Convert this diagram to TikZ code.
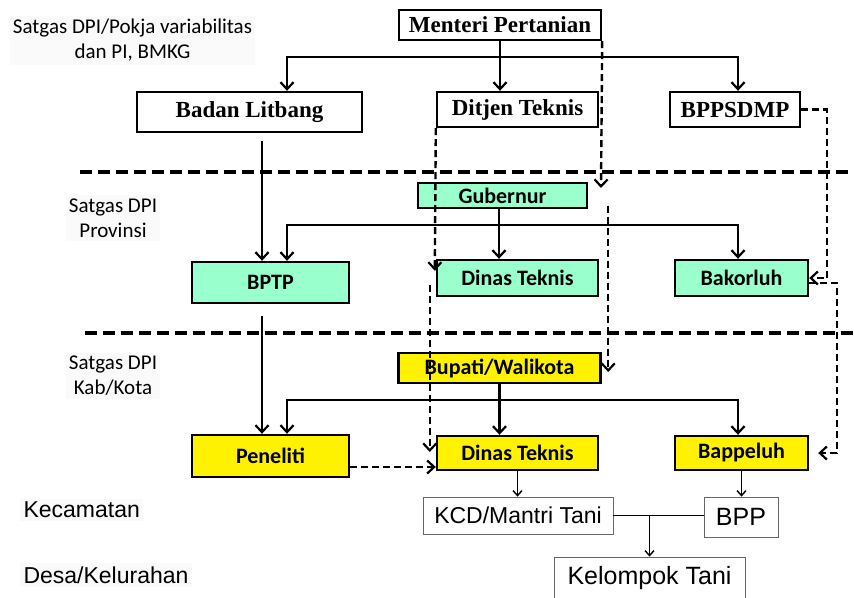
\documentclass[tikz,border=0pt]{standalone}
\usepackage{fontspec}
\setmainfont{Liberation Serif}
\newfontfamily\calibri{Carlito}
\newfontfamily\arial{Liberation Sans}
\usetikzlibrary{arrows.meta}
\definecolor{hijaumuda}{RGB}{153,255,204}

\begin{document}
\begin{tikzpicture}[x=1pt, y=-1pt, >={Straight Barb[length=7pt,width=13pt,line width=2.2pt]},
  kotak/.style = {draw, line width=2.4pt, inner sep=0pt},
  pusat/.style = {kotak, fill=white, font=\fontsize{23}{26}\selectfont\bfseries},
  prov/.style = {kotak, fill=hijaumuda, font=\calibri\fontsize{22}{26}\selectfont\bfseries},
  kab/.style = {kotak, fill=yellow, font=\calibri\fontsize{22}{26}\selectfont\bfseries},
  desa/.style = {draw=black!60, line width=0.8pt, fill=white, inner sep=0pt, font=\arial\fontsize{23}{26}\selectfont},
  ket/.style = {fill=black!2, align=center, font=\calibri\fontsize{21}{25}\selectfont},
  garis/.style = {line width=2.9pt, ->},
  cabang/.style = {line width=2.9pt, <->},
  putus/.style = {line width=2.4pt, dash pattern=on 7pt off 4pt, ->},
  tipis/.style = {line width=1.4pt, -{Straight Barb[length=5pt,width=9pt]}},
  batas/.style = {line width=3.2pt, dash pattern=on 12pt off 6pt}]
\useasboundingbox (0,0) rectangle (854,597);

% keterangan tingkat
\node[ket] (k1) at (132.5,40.5) {Satgas DPI/Pokja variabilitas\\dan PI, BMKG};
\node[ket] (k2) at (113,218) {Satgas DPI\\Provinsi};
\node[ket] (k3) at (113,376) {Satgas DPI\\Kab/Kota};
\node[ket, anchor=west, font=\arial\fontsize{23}{26}\selectfont] (k4) at (20,510) {Kecamatan};
\node[ket, anchor=west, font=\arial\fontsize{23}{26}\selectfont] (k5) at (20,575) {Desa/Kelurahan};

% batas tingkat
\draw[batas] (80,172) -- (854,172);
\draw[batas] (85,333) -- (854,333);

% pusat
\node[pusat, minimum width=202pt, minimum height=30pt] (menteri) at (500,25) {Menteri Pertanian};
\node[pusat, minimum width=225pt, minimum height=40pt] (litbang) at (249.5,112) {Badan Litbang};
\node[pusat, minimum width=161pt, minimum height=35pt] (ditjen) at (517.5,109.5) {Ditjen Teknis};
\node[pusat, minimum width=130pt, minimum height=35pt] (bppsdmp) at (735,109.5) {BPPSDMP};

% provinsi
\node[prov, minimum width=169pt, minimum height=25pt] (gubernur) at (502.5,195.5) {Gubernur};
\node[prov, minimum width=157pt, minimum height=41pt] (bptp) at (270.5,282.5) {BPTP};
\node[prov, minimum width=161pt, minimum height=36pt] (dinasprov) at (517.5,278) {Dinas Teknis};
\node[prov, minimum width=133pt, minimum height=36pt] (bakorluh) at (741.5,278) {Bakorluh};

% kabupaten/kota
\node[kab, minimum width=202pt, minimum height=30pt] (bupati) at (499.5,368) {Bupati/Walikota};
\node[kab, minimum width=157pt, minimum height=42pt] (peneliti) at (270.5,456) {Peneliti};
\node[kab, minimum width=161pt, minimum height=34pt] (dinaskab) at (517.5,453) {Dinas Teknis};
\node[kab, minimum width=133pt, minimum height=34pt] (bappeluh) at (741.5,453) {Bappeluh};

% kecamatan, desa
\node[desa, minimum width=190pt, minimum height=37pt] (kcd) at (518,515.5) {KCD/Mantri Tani};
\node[desa, minimum width=74pt, minimum height=40pt, font=\arial\fontsize{25}{28}\selectfont] (bpp) at (741,517) {BPP};
\node[desa, minimum width=191pt, minimum height=43pt, font=\arial\fontsize{25}{28}\selectfont] (kelompok) at (649.5,578.5) {Kelompok Tani};

% garis komando
\coordinate (b1w) at (287,57);
\coordinate (b1e) at (738,57);
\coordinate (b2w) at (287,225);
\coordinate (b2e) at (738,225);
\coordinate (b3w) at (287,400);
\coordinate (b3e) at (738,400);
\draw[garis] (menteri.south) -- (menteri.south |- ditjen.north);
\draw[cabang] (b1w |- litbang.north) -- (b1w) -- (b1e) -- (b1e |- bppsdmp.north);
\draw[garis] ([shift={(12.5,8)}]litbang.south) -- ([xshift=-8.5pt]bptp.north);
\draw[garis] ([xshift=-3.5pt]gubernur.south) -- ([xshift=-3.5pt]gubernur.south |- dinasprov.north);
\draw[cabang] (b2w |- bptp.north) -- (b2w) -- (b2e) -- (b2e |- bakorluh.north);
\draw[garis] ([shift={(-8.5,12)}]bptp.south) -- ([xshift=-8.5pt]peneliti.north);
\draw[garis] (bupati.south) -- (bupati.south |- dinaskab.north);
\draw[cabang] (b3w |- peneliti.north) -- (b3w) -- (b3e) -- (b3e |- bappeluh.north);
\draw[tipis] (dinaskab.south) -- (dinaskab.south |- kcd.north);
\draw[tipis] (bappeluh.south) -- (bappeluh.south |- bpp.north);
\draw[line width=1.4pt] (kcd.east) -- (bpp.west |- kcd.east);
\draw[tipis] (kelompok.north |- kcd.east) -- (kelompok.north);

% garis koordinasi
\coordinate (gubne) at (601,188);
\draw[putus] (menteri.south east) -- (gubne);
\draw[putus] (ditjen.south west) -- ([shift={(-1,12)}]dinasprov.north west);
\draw[putus] ([shift={(-6,7)}]dinasprov.west) -- ([shift={(-6,-1)}]dinaskab.west);
\draw[putus] ([shift={(20,10)}]gubernur.east) -- ([shift={(6.5,4)}]bupati.east);
\draw[putus] (bppsdmp.east) -- ++(26,0) |- (bakorluh.east);
\draw[putus] ([yshift=-5pt]bakorluh.east) -- ++(28,0) |- ([xshift=9pt]bappeluh.east);
\draw[putus] ([yshift=-11pt]peneliti.east) -- ([yshift=-14pt]dinaskab.west);
\end{tikzpicture}
\end{document}
